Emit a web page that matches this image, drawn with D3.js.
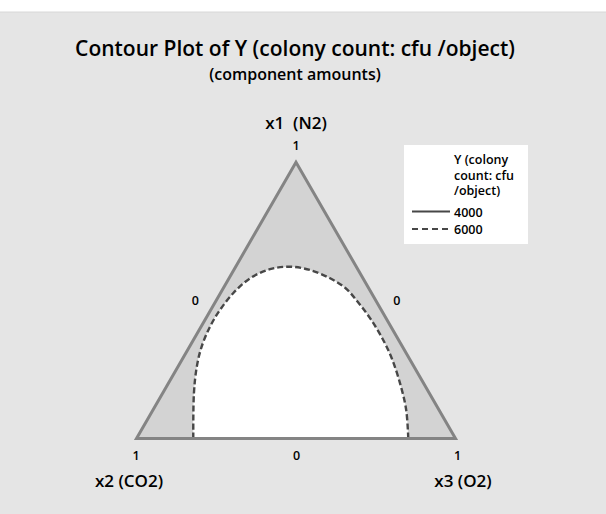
<!DOCTYPE html>
<html>
<head>
<meta charset="utf-8">
<script src="https://cdn.jsdelivr.net/npm/d3@7"></script>
<style>
  html, body { margin: 0; padding: 0; background: #ffffff; }
  svg { display: block; }
  text { font-family: "Open Sans", "Noto Sans", sans-serif; fill: #000; white-space: pre; }
</style>
</head>
<body>
<svg id="chart" width="606" height="514"></svg>
<script>
// ---------- data ----------
const titleText = "Contour Plot of Y (colony count: cfu /object)";
const subtitleText = "(component amounts)";
const componentNames = ["x1  (N2)", "x2 (CO2)", "x3 (O2)"];
const vertexTickLabels = ["1", "1", "1"];
const edgeTickLabels = ["0", "0", "0"];   // opposite x3 (left), x2 (right), x1 (bottom)
const legendTitle = ["Y (colony", "count: cfu", "/object)"];
const contourLevels = [4000, 6000];
const contourDash = ["none", "6,3"];
// 6000 contour, as mixture proportions [x1, x2, x3]
const contour6000 = [
  [0.000, 0.822, 0.178],
  [0.164, 0.738, 0.098],
  [0.260, 0.681, 0.059],
  [0.332, 0.630, 0.038],
  [0.405, 0.567, 0.028],
  [0.465, 0.506, 0.029],
  [0.526, 0.434, 0.040],
  [0.580, 0.354, 0.066],
  [0.613, 0.275, 0.112],
  [0.622, 0.208, 0.170],
  [0.610, 0.151, 0.239],
  [0.580, 0.103, 0.317],
  [0.543, 0.072, 0.385],
  [0.494, 0.059, 0.447],
  [0.436, 0.050, 0.514],
  [0.364, 0.048, 0.588],
  [0.288, 0.055, 0.657],
  [0.188, 0.077, 0.735],
  [0.103, 0.103, 0.794],
  [0.000, 0.148, 0.852]
];

// ---------- layout ----------
const svg = d3.select("#chart");
svg.append("rect").attr("x", 0).attr("y", 12).attr("width", 606).attr("height", 502).attr("fill", "#e5e5e5");
svg.append("line").attr("x1", 0).attr("x2", 606).attr("y1", 12).attr("y2", 12).attr("stroke", "#d8d8d8");

// ternary scales
const yScale = d3.scaleLinear().domain([0, 1]).range([438.5, 162.3]);   // by x1
const xScale = d3.scaleLinear().domain([0, 1]).range([136.5, 455.5]);   // horizontal position
const project = d => [xScale(d[2] + d[0] / 2), yScale(d[0])];

const vertices = [[1, 0, 0], [0, 1, 0], [0, 0, 1]];
const line = d3.line().x(d => project(d)[0]).y(d => project(d)[1]);
const curve = d3.line().x(d => project(d)[0]).y(d => project(d)[1]).curve(d3.curveCatmullRom.alpha(0.5));

// shaded region (< 6000)
svg.append("path").attr("d", line(vertices) + "Z").attr("fill", "#d3d3d3");
// region > 6000
svg.append("path").attr("d", curve(contour6000) + "Z").attr("fill", "#ffffff");
// contour line
svg.append("path").attr("d", curve(contour6000))
  .attr("fill", "none").attr("stroke", "#474747").attr("stroke-width", 2.4)
  .attr("stroke-dasharray", contourDash[1]);
// triangle outline
svg.append("path").attr("d", line(vertices) + "Z")
  .attr("fill", "none").attr("stroke", "#848484").attr("stroke-width", 3)
  .attr("stroke-linejoin", "miter");

// titles
svg.append("text").attr("x", 295).attr("y", 56).attr("text-anchor", "middle")
  .attr("font-size", 21).attr("font-weight", 600).text(titleText);
svg.append("text").attr("x", 295).attr("y", 80).attr("text-anchor", "middle")
  .attr("font-size", 16).attr("font-weight", 600).text(subtitleText);

// vertex labels and ticks
const pTop = project(vertices[0]), pBL = project(vertices[1]), pBR = project(vertices[2]);
svg.append("text").attr("x", pTop[0]).attr("y", 128.5).attr("text-anchor", "middle")
  .attr("font-size", 17).attr("font-weight", 600).text(componentNames[0]);
svg.append("text").attr("x", pTop[0]).attr("y", 150).attr("text-anchor", "middle")
  .attr("font-size", 12.5).attr("font-weight", 600).text(vertexTickLabels[0]);
svg.append("text").attr("x", pBL[0] - 0.5).attr("y", 459.5).attr("text-anchor", "middle")
  .attr("font-size", 12.5).attr("font-weight", 600).text(vertexTickLabels[1]);
svg.append("text").attr("x", pBR[0] + 2.2).attr("y", 459.5).attr("text-anchor", "middle")
  .attr("font-size", 12.5).attr("font-weight", 600).text(vertexTickLabels[2]);
svg.append("text").attr("x", pBL[0] - 7.5).attr("y", 487).attr("text-anchor", "middle")
  .attr("font-size", 17).attr("font-weight", 600).text(componentNames[1]);
svg.append("text").attr("x", pBR[0] + 7.5).attr("y", 487).attr("text-anchor", "middle")
  .attr("font-size", 17).attr("font-weight", 600).text(componentNames[2]);

// edge midpoint labels
const midL = project([0.5, 0.5, 0]), midR = project([0.5, 0, 0.5]), midB = project([0, 0.5, 0.5]);
svg.append("text").attr("x", midL[0] - 21).attr("y", midL[1] + 4.5).attr("text-anchor", "middle")
  .attr("font-size", 12.5).attr("font-weight", 600).text(edgeTickLabels[0]);
svg.append("text").attr("x", midR[0] + 21).attr("y", midR[1] + 4.5).attr("text-anchor", "middle")
  .attr("font-size", 12.5).attr("font-weight", 600).text(edgeTickLabels[1]);
svg.append("text").attr("x", midB[0] + 0.7).attr("y", 459.5).attr("text-anchor", "middle")
  .attr("font-size", 12.5).attr("font-weight", 600).text(edgeTickLabels[2]);

// legend
const lg = svg.append("g");
lg.append("rect").attr("x", 404).attr("y", 145).attr("width", 124).attr("height", 99).attr("fill", "#ffffff");
legendTitle.forEach((t, i) => {
  lg.append("text").attr("x", 454).attr("y", 164 + i * 15.5)
    .attr("font-size", 12.5).attr("font-weight", 600).text(t);
});
contourLevels.forEach((lv, i) => {
  const y = 211.5 + i * 17.5;
  lg.append("line").attr("x1", 412).attr("x2", 450).attr("y1", y).attr("y2", y)
    .attr("stroke", "#474747").attr("stroke-width", 2.2)
    .attr("stroke-dasharray", i === 1 ? "6,4" : contourDash[i]);
  lg.append("text").attr("x", 454).attr("y", y + 5)
    .attr("font-size", 12.5).attr("font-weight", 600).text(lv);
});
</script>
</body>
</html>
